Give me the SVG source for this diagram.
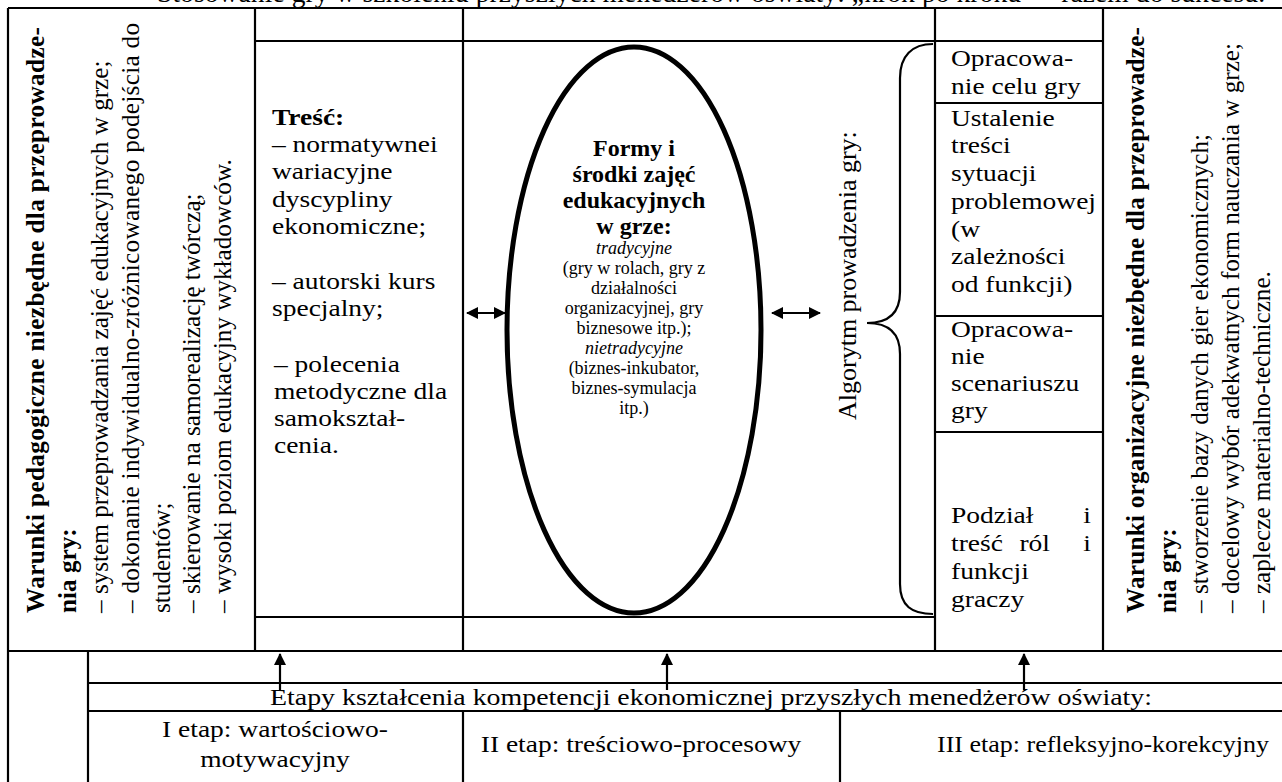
<svg xmlns="http://www.w3.org/2000/svg" width="1282" height="782" viewBox="0 0 1282 782">
<style>
.t{font-family:"Liberation Serif","Times New Roman",serif;font-size:27.5px;fill:#000}
.h{font-family:"Liberation Serif","Times New Roman",serif;font-size:23.7px;fill:#000}
.r{font-family:"Liberation Serif","Times New Roman",serif;font-size:25.2px;fill:#000}
.b{font-weight:bold}
.e1{font-family:"Liberation Serif","Times New Roman",serif;font-size:24px;font-weight:bold;text-anchor:middle}
.e2{font-family:"Liberation Serif","Times New Roman",serif;font-size:18px;text-anchor:middle}
.i{font-style:italic}
.ln{stroke:#000;stroke-width:2.2;fill:none}
.ar{stroke:#000;stroke-width:2.2;fill:none}
</style>
<defs>
<marker id="ah" viewBox="0 0 12 12" refX="11" refY="6" markerWidth="12" markerHeight="12" markerUnits="userSpaceOnUse" orient="auto-start-reverse"><path d="M0,0 L12,6 L0,12 z" fill="#000"/></marker>
</defs>
<rect width="1282" height="782" fill="#fff"/>
<text id="title" class="t" x="157" y="2" textLength="1108" lengthAdjust="spacing">Stosowanie gry w szkoleniu przyszłych menedżerów oświaty: „krok po kroku” – razem do sukcesu.</text>

<g id="grid">
<path class="ln" d="M8,8 H1283 M8,8 V783 M255,8 V651 M463,8 V651 M935,8 V651 M1103,8 V651 M255,41 H1103 M935,103 H1103 M935,316 H1103 M935,432 H1103 M255,617 H935 M8,651 H1283 M88,651 V783 M88,683 H1283 M88,711 H1283 M463,711 V783 M840,711 V783"/>
</g>

<g id="pedagogiczne">
<text class="r b" transform="translate(44,613) rotate(-90)" textLength="586" lengthAdjust="spacing">Warunki pedagogiczne niezbędne dla przeprowadze-</text>
<text class="r b" transform="translate(76,613) rotate(-90)">nia gry:</text>
<text class="r" transform="translate(108,613) rotate(-90)">– system przeprowadzania zajęć edukacyjnych w grze;</text>
<text class="r" transform="translate(139,613) rotate(-90)" textLength="590" lengthAdjust="spacing">– dokonanie indywidualno-zróżnicowanego podejścia do</text>
<text class="r" transform="translate(170,613) rotate(-90)">studentów;</text>
<text class="r" transform="translate(200,613) rotate(-90)">– skierowanie na samorealizację twórczą;</text>
<text class="r" transform="translate(231,613) rotate(-90)">– wysoki poziom edukacyjny wykładowców.</text>
</g>

<g id="tresc">
<text class="h" transform="matrix(1.16,0,0,1,272,0)"><tspan class="b" x="0" y="125">Treść:</tspan><tspan x="0" y="152">– normatywnei</tspan><tspan x="0" y="179">wariacyjne</tspan><tspan x="0" y="207">dyscypliny</tspan><tspan x="0" y="234">ekonomiczne;</tspan><tspan x="0" y="289">– autorski kurs</tspan><tspan x="0" y="316">specjalny;</tspan><tspan x="1.7" y="372">– polecenia</tspan><tspan x="1.7" y="399">metodyczne dla</tspan><tspan x="1.7" y="426">samokształ-</tspan><tspan x="1.7" y="453">cenia.</tspan></text>
</g>

<g id="formy">
<ellipse cx="634" cy="330" rx="127" ry="283" fill="none" stroke="#000" stroke-width="5"/>
<text class="e1"><tspan x="634" y="156">Formy i</tspan><tspan x="634" y="182">środki zajęć</tspan><tspan x="634" y="208">edukacyjnych</tspan><tspan x="634" y="234">w grze:</tspan></text>
<text class="e2"><tspan class="i" x="634" y="254">tradycyjne</tspan><tspan x="634" y="274">(gry w rolach, gry z</tspan><tspan x="634" y="294">działalności</tspan><tspan x="634" y="314">organizacyjnej, gry</tspan><tspan x="634" y="334">biznesowe itp.);</tspan><tspan class="i" x="634" y="354">nietradycyjne</tspan><tspan x="634" y="374">(biznes-inkubator,</tspan><tspan x="634" y="394">biznes-symulacja</tspan><tspan x="634" y="414">itp.)</tspan></text>
</g>

<g id="algorytm">
<text class="t" style="font-size:26px" transform="translate(856,420) rotate(-90)">Algorytm prowadzenia gry:</text>
<path class="ln" d="M933,44 C912,44 900,56 900,78 L900,292 C900,314 888,323 867,323 C888,323 900,332 900,354 L900,584 C900,606 912,614 933,614"/>
</g>

<g id="kroki">
<text class="h" transform="matrix(1.16,0,0,1,951,0)"><tspan x="0" y="66">Opracowa-</tspan><tspan x="0" y="94">nie celu gry</tspan></text>
<text class="h" transform="matrix(1.16,0,0,1,951,0)"><tspan x="0" y="126">Ustalenie</tspan><tspan x="0" y="153">treści</tspan><tspan x="0" y="181">sytuacji</tspan><tspan x="0" y="209">problemowej</tspan><tspan x="0" y="237">(w</tspan><tspan x="0" y="264">zależności</tspan><tspan x="0" y="292">od funkcji)</tspan></text>
<text class="h" transform="matrix(1.16,0,0,1,951,0)"><tspan x="0" y="337">Opracowa-</tspan><tspan x="0" y="364">nie</tspan><tspan x="0" y="391">scenariuszu</tspan><tspan x="0" y="418">gry</tspan></text>
<text class="h" transform="matrix(1.16,0,0,1,951,0)"><tspan x="0" y="523">Podział</tspan><tspan x="114" y="523">i</tspan><tspan x="0" y="551">treść</tspan><tspan x="59" y="551">ról</tspan><tspan x="114" y="551">i</tspan><tspan x="0" y="579">funkcji</tspan><tspan x="0" y="607">graczy</tspan></text>
</g>

<g id="organizacyjne">
<text class="r b" transform="translate(1144,613) rotate(-90)" textLength="586" lengthAdjust="spacing">Warunki organizacyjne niezbędne dla przeprowadze-</text>
<text class="r b" transform="translate(1176,613) rotate(-90)">nia gry:</text>
<text class="r" transform="translate(1208,613) rotate(-90)">– stworzenie bazy danych gier ekonomicznych;</text>
<text class="r" transform="translate(1239,613) rotate(-90)">– docelowy wybór adekwatnych form nauczania w grze;</text>
<text class="r" transform="translate(1270,613) rotate(-90)">– zaplecze materialno-techniczne.</text>
</g>

<g id="etapy">
<text class="h" x="270" y="705" textLength="882" lengthAdjust="spacingAndGlyphs">Etapy kształcenia kompetencji ekonomicznej przyszłych menedżerów oświaty:</text>
<text class="h" text-anchor="middle" transform="matrix(1.16,0,0,1,275,0)"><tspan x="0" y="737">I etap: wartościowo-</tspan><tspan x="0" y="767">motywacyjny</tspan></text>
<text class="h" text-anchor="middle" transform="matrix(1.16,0,0,1,641,0)" x="0" y="752">II etap: treściowo-procesowy</text>
<text class="h" x="937" y="752" textLength="332" lengthAdjust="spacingAndGlyphs">III etap: refleksyjno-korekcyjny</text>
</g>

<g id="connectors">
<line class="ar" x1="467" y1="313" x2="505" y2="313" marker-start="url(#ah)" marker-end="url(#ah)"/>
<line class="ar" x1="772" y1="313" x2="820" y2="313" marker-start="url(#ah)" marker-end="url(#ah)"/>
<line class="ar" x1="280" y1="690" x2="280" y2="654" marker-end="url(#ah)"/>
<line class="ar" x1="667" y1="690" x2="667" y2="654" marker-end="url(#ah)"/>
<line class="ar" x1="1024" y1="690" x2="1024" y2="654" marker-end="url(#ah)"/>
</g>
</svg>
